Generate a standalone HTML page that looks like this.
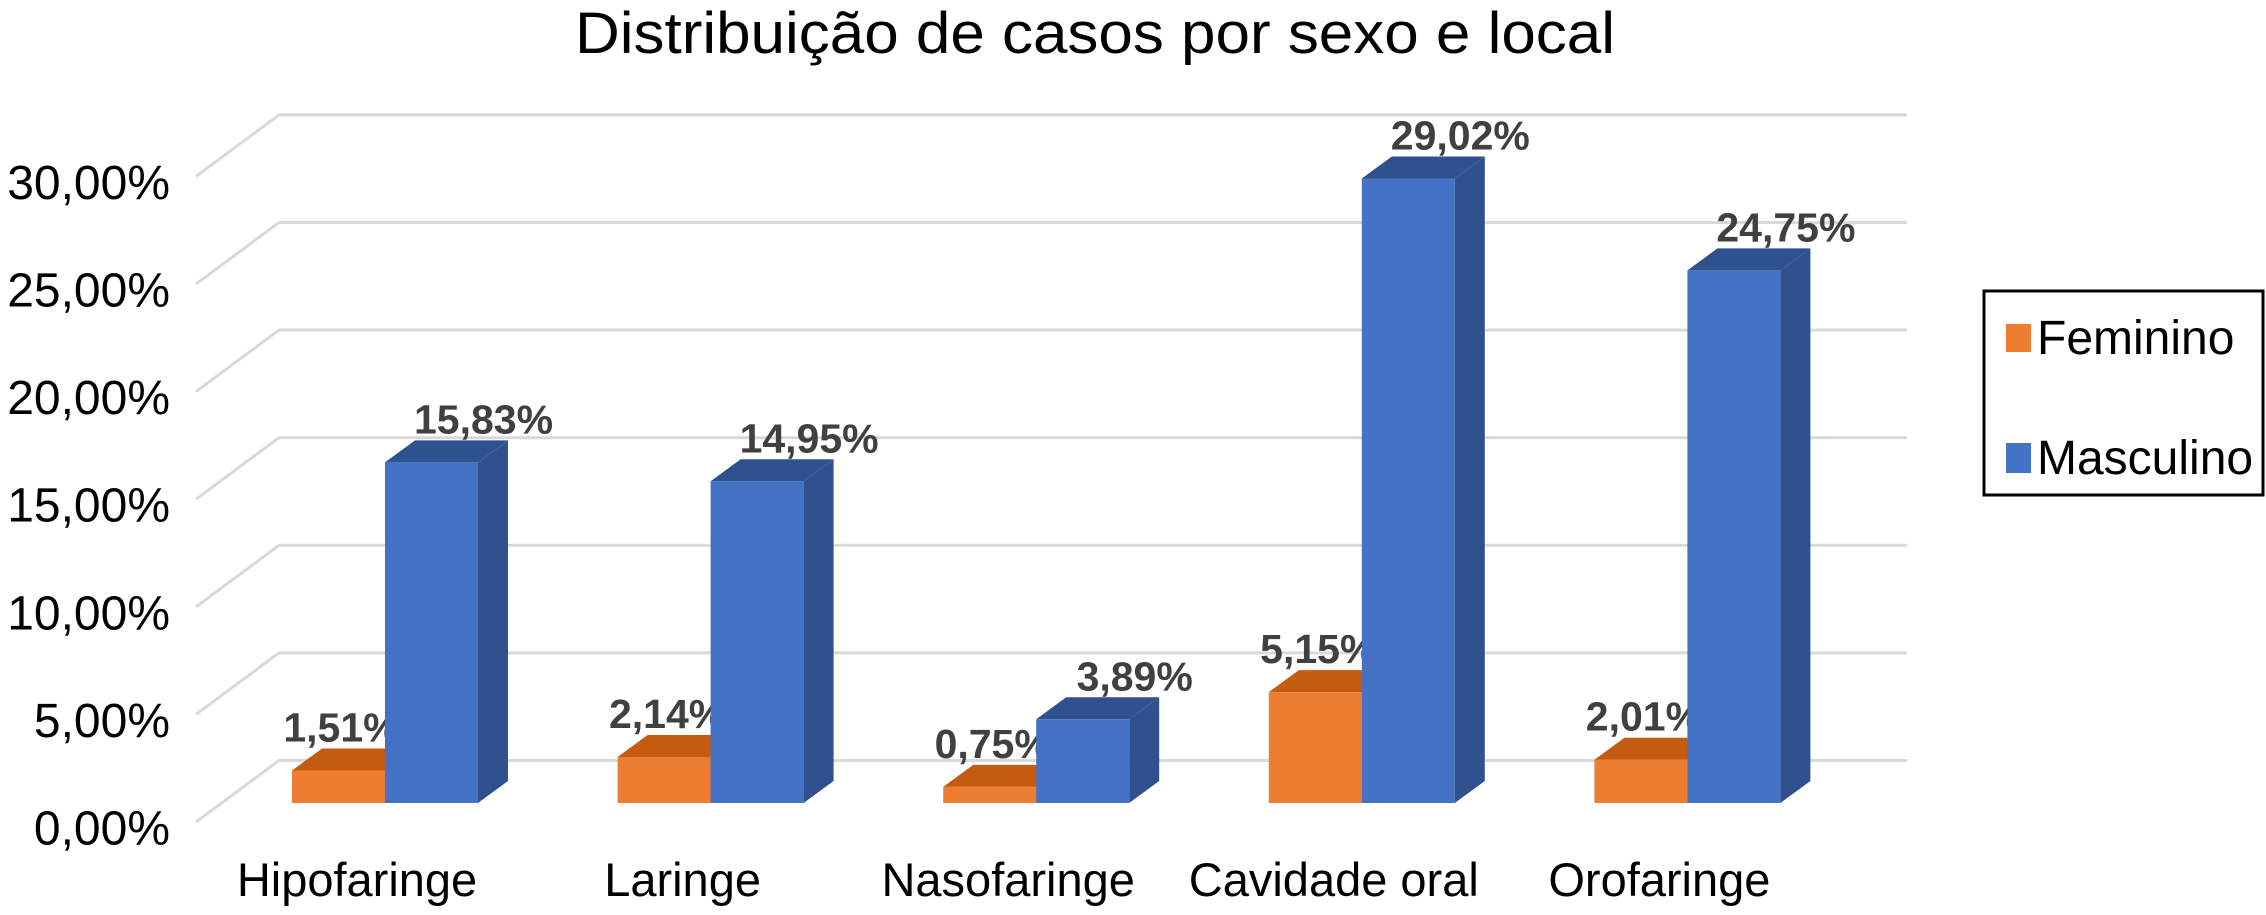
<!DOCTYPE html>
<html><head><meta charset="utf-8"><style>
html,body{margin:0;padding:0;background:#fff;}
svg{display:block;font-family:"Liberation Sans",Arial,sans-serif;}
</style></head><body>
<svg id="chart" width="2266" height="915" viewBox="0 0 2266 915" xmlns="http://www.w3.org/2000/svg">
<rect width="2266" height="915" fill="#fff"/>
<text x="1095" y="53" font-size="58" text-anchor="middle" textLength="1040" lengthAdjust="spacingAndGlyphs" fill="#000">Distribuição de casos por sexo e local</text>
<g id="grid"></g>
<g id="ylabels"></g>
<g id="bars"></g>
<g id="xlabels"></g>
<g>
<rect x="1984" y="291" width="279" height="204" fill="#fff" stroke="#000" stroke-width="3"/>
<g>
<rect x="2006" y="324" width="25" height="28" fill="#ED7D31"/>
<text x="2037" y="354" font-size="48" fill="#000">Feminino</text>
</g>
<g>
<rect x="2006" y="443" width="25" height="30" fill="#4472C4"/>
<text x="2037" y="474" font-size="48" fill="#000">Masculino</text>
</g>
</g>
</svg>
<script>
const categories = ["Hipofaringe","Laringe","Nasofaringe","Cavidade oral","Orofaringe"];
const feminino = [1.51, 2.14, 0.75, 5.15, 2.01];
const masculino = [15.83, 14.95, 3.89, 29.02, 24.75];
const yTicks = [0,5,10,15,20,25,30];
const yTickLabels = ["0,00%","5,00%","10,00%","15,00%","20,00%","25,00%","30,00%"];
const fmt = v => v.toFixed(2).replace('.', ',') + '%';

const NS = "http://www.w3.org/2000/svg";
const pxPer = 21.52;
const backZero = 760.5, frontLeftX = 196, depthX = 83, depthY = 61.5, gridRight = 1907;
const barBottom = 803, barW = 93, bdx = 30, bdy = 22;
const groupStart = 292, groupStep = 325.6;
function yBack(v){ return backZero - v*pxPer; }
function yBar(v){ return barBottom - v*pxPer; }
function xGroup(i){ return groupStart + i*groupStep; }
function mk(tag, attrs, parent){ const e=document.createElementNS(NS,tag); for(const k in attrs) e.setAttribute(k,attrs[k]); parent.appendChild(e); return e; }

const grid = document.getElementById('grid');
const yl = document.getElementById('ylabels');
yTicks.forEach((t,i)=>{
  const yb = yBack(t);
  const p = mk('polyline',{points:`${frontLeftX},${yb+depthY} ${frontLeftX+depthX},${yb} ${gridRight},${yb}`,fill:'none',stroke:'#d9d9d9','stroke-width':3},grid);
  
  
  const tx = mk('text',{x:170,y:yb+84,'font-size':48,'text-anchor':'end',fill:'#000'},yl);
  tx.textContent = yTickLabels[i];
  
  
});

const bars = document.getElementById('bars');
function bar(x, v, front, top, side, name, labelOffset){
  const g = mk('g',{},bars);
  
  
  const yt = yBar(v);
  mk('polygon',{points:`${x+barW},${yt} ${x+barW+bdx},${yt-bdy} ${x+barW+bdx},${barBottom-bdy} ${x+barW},${barBottom}`,fill:side},g);
  mk('polygon',{points:`${x},${yt} ${x+bdx},${yt-bdy} ${x+barW+bdx},${yt-bdy} ${x+barW},${yt}`,fill:top},g);
  mk('rect',{x:x,y:yt,width:barW,height:barBottom-yt,fill:front},g);
  const t = mk('text',{x:x+barW/2+bdx/2+labelOffset,y:yt-bdy-7,'font-size':41,'font-weight':'bold','text-anchor':'middle',fill:'#404040'},bars);
  t.textContent = fmt(v);
  
  
}
categories.forEach((c,i)=>{
  const x = xGroup(i);
  bar(x, feminino[i], '#ED7D31', '#C55A11', '#B55410', 'bar-feminino-'+i, -12);
  bar(x+barW, masculino[i], '#4472C4', '#2F528F', '#2F528F', 'bar-masculino-'+i, 37);
});

const xl = document.getElementById('xlabels');
categories.forEach((c,i)=>{
  const t = mk('text',{x:xGroup(i)+barW-28,y:896,'font-size':47,'text-anchor':'middle',fill:'#000'},xl);
  t.textContent = c;
  
  
});
</script>
</body></html>
